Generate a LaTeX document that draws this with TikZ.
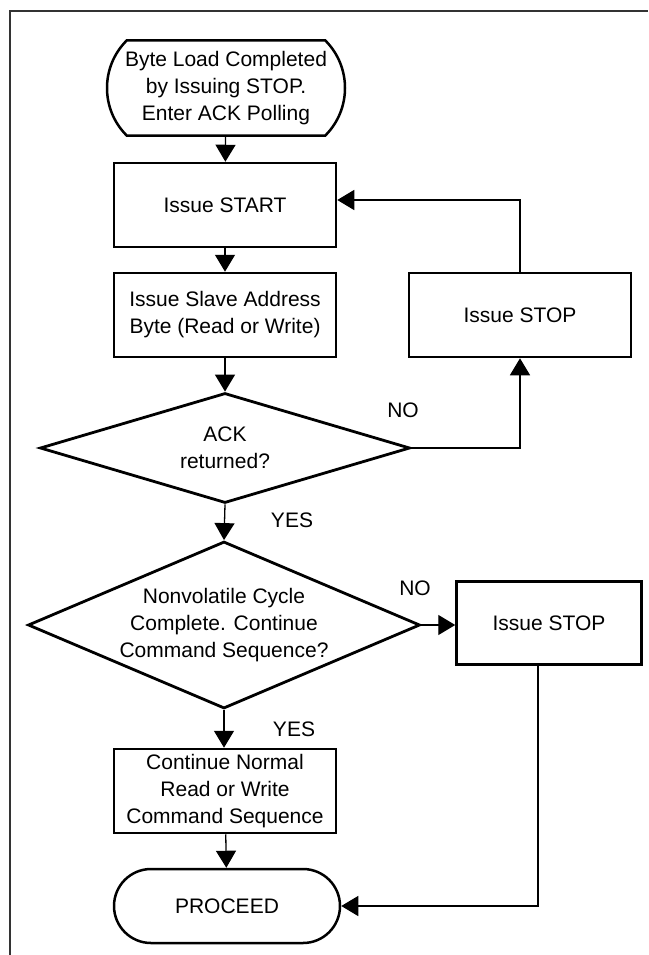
\documentclass[tikz,border=0pt]{standalone}
\usepackage{fontspec}
\setmainfont{Liberation Sans}
\usetikzlibrary{shapes.geometric, shapes.misc, arrows.meta}

\begin{document}
\begin{tikzpicture}[x=1pt, y=-1pt,
	font=\fontsize{21}{27}\selectfont,
	box/.style={rectangle, draw, line width=2.5pt, minimum width=222pt, minimum height=84pt, align=center, inner sep=0pt},
	term/.style={rounded rectangle, draw, line width=2.5pt, align=center, inner sep=0pt},
	dec/.style={diamond, draw, line width=2.8pt, align=center, inner sep=0pt},
	wire/.style={line width=1.3pt},
	conn/.style={wire, -{Triangle[length=17pt, width=20pt]}}]

	\useasboundingbox (0, 0) rectangle (648, 955);

	% frame
	\draw[line width=1.8pt, black!80] (10, 955) -- (10, 11) -- (648, 11);

	\node[term, rounded rectangle arc length=90, minimum width=238pt, minimum height=95pt] (t1) at (226, 88) {Byte Load Completed\\by Issuing STOP.\\Enter ACK Polling};

	\node[box] (b1) at (225, 205) {Issue START};
	\node[box] (b2) at (225, 315) {Issue Slave Address\\Byte (Read or Write)};
	\node[box] (b3) at (520, 315) {Issue STOP};

	\node[dec, aspect=3.36, minimum width=370pt, minimum height=110pt] (d1) at (225, 448) {ACK\\returned?};
	\node[dec, aspect=2.35, minimum width=392pt, minimum height=167pt] (d2) at (224, 625) {Nonvolatile Cycle\\Complete. Continue\\Command Sequence?};

	\node[box, minimum width=185pt, minimum height=83pt] (b4) at (549, 623) {Issue STOP};
	\node[box] (b5) at (225, 791) {Continue Normal\\Read or Write\\Command Sequence};

	\node[term, minimum width=226pt, minimum height=74pt] (t2) at (227, 906) {PROCEED};

	% branch labels
	\node (no1) at (403, 410) {NO};
	\node (yes1) at (292, 520) {YES};
	\node (no2) at (415, 588) {NO};
	\node (yes2) at (294, 729) {YES};

	\coordinate (c1) at ([xshift=-11pt]b4.south);

	% connectors
	\draw[conn] (t1) -- (b1);
	\draw[conn] (b1) -- (b2);
	\draw[conn] (b2) -- (d1);
	\draw[conn] (d1.east) -| (b3.south);
	\draw[conn] (b3.north) |- ([yshift=5pt]b1.east);
	\draw[conn] (d1.south) -- (d2.north);
	\draw[conn] (d2.east) -- (b4.west |- d2.east);
	\draw[conn] (d2.south) -- (b5.north -| d2.south);
	\draw[conn] (b5) -- (t2);
	\draw[conn] (c1) |- (t2.east);
\end{tikzpicture}
\end{document}
